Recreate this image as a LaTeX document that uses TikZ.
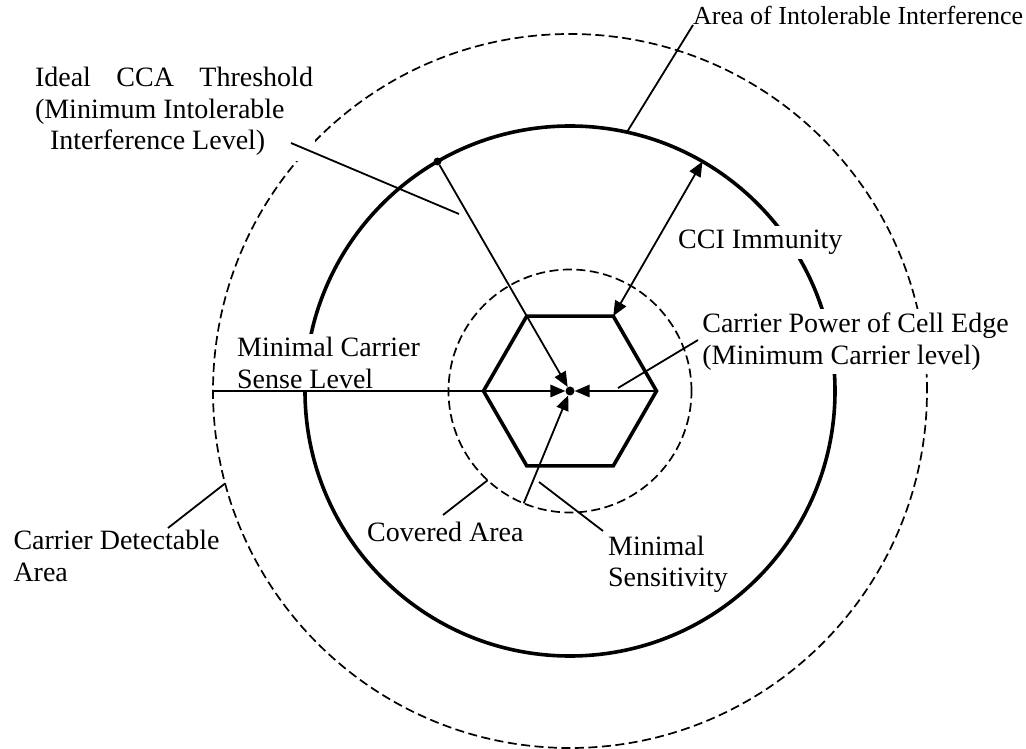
\documentclass[tikz,border=0pt]{standalone}
\usepackage{fontspec}
\setmainfont{Liberation Serif}
\usetikzlibrary{arrows.meta,calc}
\begin{document}
\begin{tikzpicture}[x=1pt,y=1pt,
  lbl/.style={font=\fontsize{28}{31.5}\selectfont, inner sep=0pt},
  lblw/.style={lbl, fill=white},
  thinline/.style={line width=1.8pt},
  tip/.tip={Triangle[length=15pt,width=12.5pt]},
  arr/.style={thinline, -tip},
  dashcirc/.style={line width=1.7pt, dash pattern=on 9pt off 4.5pt},
  solidcirc/.style={line width=3.6pt},
  hexline/.style={line width=3.6pt, line join=miter},
]
\useasboundingbox (0,0) rectangle (1026,748);
\coordinate (O) at (570,357);
% circles
\draw[dashcirc] (O) circle (357);
\draw[solidcirc] (O) circle (265);
\draw[dashcirc] (O) circle (121.5);
% hexagon
\foreach \a/\n in {0/h0,60/h1,120/h2,180/h3,240/h4,300/h5}
  \coordinate (\n) at ($(O)+(\a:86.5)$);
\draw[hexline] (h0)--(h1)--(h2)--(h3)--(h4)--(h5)--cycle;
% labels
\node[lblw, inner xsep=2pt, inner ysep=5pt, align=left] (ideal) at (174,636.5)
  {\makebox[278pt][s]{Ideal CCA Threshold}\\(Minimum Intolerable\\\hspace*{15pt}Interference Level)};
\node[lblw, inner sep=3pt, align=left] (mcs) at (328.5,385) {Minimal Carrier\\Sense Level};
\node[lblw, inner sep=4pt, anchor=base west] (cci) at (674,499) {CCI Immunity};
\node[lblw, inner sep=4pt, align=left] (cpe) at (855.5,406.5) {Carrier Power of Cell Edge\\(Minimum Carrier level)};
\node[lbl, align=left] (ms) at (668,183.5) {Minimal\\Sensitivity};
\node[lbl, anchor=base west] (cov) at (367,207) {Covered Area};
\node[lbl, align=left] (cda) at (116.5,192) {Carrier Detectable\\Area};
\node[lbl, font=\fontsize{26}{30}\selectfont, anchor=base west] (aoi) at (693,723) {Area of Intolerable Interference};
% centre and dot on circle
\node[circle, fill, inner sep=0pt, minimum size=9pt] (c) at (O) {};
\node[circle, fill, inner sep=0pt, minimum size=8pt] (p) at ($(O)+(120:265)$) {};
% arrows to centre
\coordinate (L) at ($(O)+(180:357)$);
\coordinate (B) at ($(O)+(247.6:121.5)$);
\draw[arr] (p) -- (c);
\draw[arr] (L) -- (c);
\draw[arr] (h0) -- (c);
\draw[arr] (B) -- (c);
% CCI immunity double arrow
\coordinate (ci) at ($(O)+(60:265)$);
\draw[thinline, tip-tip] (h1) -- (ci);
% leaders
\coordinate (aoiB) at ($(O)+(77.6:265)$);
\draw[thinline] (aoi.base west) -- (aoiB);
\coordinate (idealA) at (291,605);
\coordinate (idealB) at (459,534);
\draw[thinline] (idealA) -- (idealB);
\coordinate (cpeA) at (698,408);
\coordinate (cpeB) at (618,360);
\draw[thinline] (cpeA) -- (cpeB);
\coordinate (cdaA) at (168,220);
\coordinate (cdaB) at ($(O)+(195:357)$);
\draw[thinline] (cdaA) -- (cdaB);
\coordinate (covA) at (443,233);
\coordinate (covB) at ($(O)+(227.3:121.5)$);
\draw[thinline] (covA) -- (covB);
\coordinate (msA) at (603,217);
\coordinate (msB) at (539,266);
\draw[thinline] (msA) -- (msB);
\end{tikzpicture}
\end{document}
